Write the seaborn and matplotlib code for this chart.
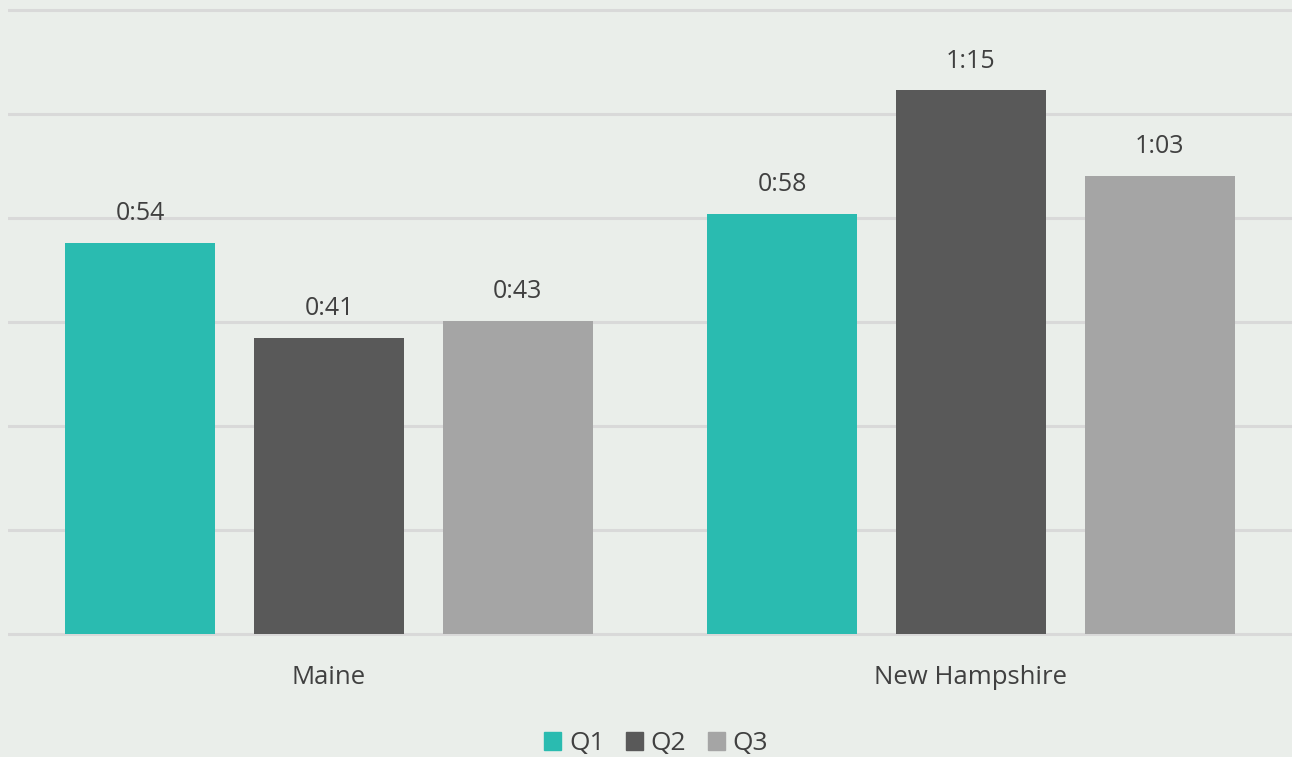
import matplotlib
matplotlib.use("Agg")
import matplotlib.pyplot as plt
import numpy as np
import pandas as pd
import seaborn as sns

states = ["Maine", "New Hampshire"]
quarters = ["Q1", "Q2", "Q3"]
# average times in seconds
q1_secs = [54.2, 58.2]
q2_secs = [41.0, 75.3]
q3_secs = [43.4, 63.4]

colors = ["#2ABBB0", "#595959", "#A5A5A5"]
bg = "#EAEEEA"
text_color = "#404040"


def fmt_time(s):
    s = int(round(s))
    return f"{s // 60}:{s % 60:02d}"


df = pd.DataFrame({
    "state": states * 3,
    "quarter": [q for q in quarters for _ in states],
    "secs": q1_secs + q2_secs + q3_secs,
})

sns.set_theme(style="white")
plt.rcParams["font.family"] = ["Open Sans", "DejaVu Sans"]

fig = plt.figure(figsize=(12.92, 7.57), dpi=100, facecolor=bg)
# axes spans a little below the baseline (y=634px) and above the top gridline (y=10px)
ax = fig.add_axes([8 / 1292, 120 / 757, 1284 / 1292, 630 / 757])
ax.set_facecolor(bg)

sns.barplot(data=df, x="state", y="secs", hue="quarter", order=states,
            hue_order=quarters, palette=colors, width=0.882, gap=0.204,
            saturation=1, linewidth=0, ax=ax, legend=False)

for cont in ax.containers:
    ax.bar_label(cont, labels=[fmt_time(v) for v in cont.datavalues],
                 padding=12, fontsize=18, color=text_color)

px = 86.4 / 624  # seconds per pixel
ax.set_xlim(-0.5, 1.5)
ax.set_ylim(-3 * px, 86.4 + 3 * px)
ax.set_yticks(np.arange(0, 86.5, 14.4))
ax.yaxis.grid(True, color="#D9D9D9", linewidth=2.2)
ax.set_axisbelow(True)
ax.tick_params(axis="y", left=False, labelleft=False)
ax.tick_params(axis="x", bottom=False, pad=14, labelsize=18.5, labelcolor=text_color)
ax.set_xlabel("")
ax.set_ylabel("")
sns.despine(ax=ax, left=True, bottom=True, top=True, right=True)

handles = [plt.Rectangle((0, 0), 1, 1, color=c) for c in colors]
fig.legend(handles, quarters, loc="center", bbox_to_anchor=(656 / 1292, 1 - 744 / 757),
           ncol=3, frameon=False, fontsize=19, handlelength=0.65, handleheight=0.65,
           handletextpad=0.3, columnspacing=0.8, labelcolor=text_color,
           borderpad=0, borderaxespad=0)

fig.savefig("out.png", dpi=100, facecolor=bg)
